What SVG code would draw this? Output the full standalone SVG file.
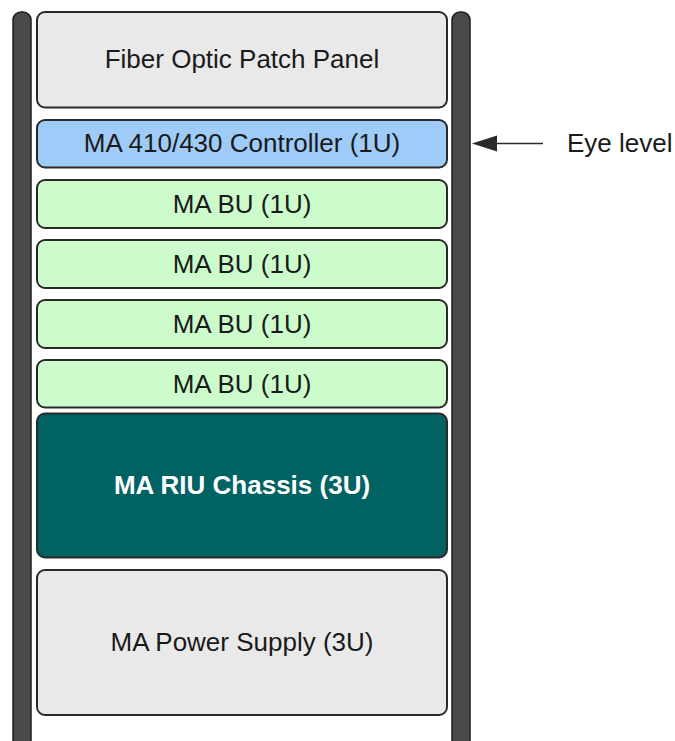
<svg xmlns="http://www.w3.org/2000/svg" width="675" height="741" viewBox="0 0 675 741">
<style>
.rail{fill:#4a4a4a;stroke:#1e1e1e;stroke-width:1.5}
.box{stroke:#2a2a2a;stroke-width:2}
.t{font-family:"Liberation Sans",Arial,sans-serif;font-size:26px;fill:#1a1a1a;text-anchor:middle}
.grey{fill:#e9e9e9}
.blue{fill:#9ecbf8}
.green{fill:#ccfccc}
.teal{fill:#006262}
</style>
<rect width="675" height="741" fill="#ffffff"/>
<g id="rails">
<rect class="rail" x="13" y="12" width="18" height="740" rx="8"/>
<rect class="rail" x="452" y="12" width="18" height="740" rx="8"/>
</g>
<g id="fiber"><rect class="box grey" x="37" y="12" width="410" height="95.5" rx="8"/><text class="t" x="242" y="67.5">Fiber Optic Patch Panel</text></g>
<g id="controller"><rect class="box blue" x="37" y="120" width="410" height="47.5" rx="8"/><text class="t" x="242" y="151.5">MA 410/430 Controller (1U)</text></g>
<g id="bu1"><rect class="box green" x="37" y="180" width="410" height="48" rx="8"/><text class="t" x="242" y="213">MA BU (1U)</text></g>
<g id="bu2"><rect class="box green" x="37" y="240" width="410" height="48" rx="8"/><text class="t" x="242" y="273">MA BU (1U)</text></g>
<g id="bu3"><rect class="box green" x="37" y="300" width="410" height="48" rx="8"/><text class="t" x="242" y="333">MA BU (1U)</text></g>
<g id="bu4"><rect class="box green" x="37" y="360" width="410" height="47.5" rx="8"/><text class="t" x="242" y="392.5">MA BU (1U)</text></g>
<g id="riu"><rect class="box teal" x="37" y="413.5" width="410" height="144" rx="8"/><text class="t" x="242" y="494" style="fill:#ffffff;font-weight:bold">MA RIU Chassis (3U)</text></g>
<g id="power"><rect class="box grey" x="37" y="570" width="410" height="145" rx="8"/><text class="t" x="242" y="651">MA Power Supply (3U)</text></g>
<g id="connectors">
<line x1="543" y1="143.5" x2="490" y2="143.5" stroke="#2a2a2a" stroke-width="1.5"/>
<path d="M472,143.5 L497,135.5 L497,151.5 Z" fill="#2a2a2a"/>
</g>
<g id="eyelevel"><text x="567" y="152" style="font-family:'Liberation Sans',Arial,sans-serif;font-size:26px;fill:#1a1a1a">Eye level</text></g>
</svg>
